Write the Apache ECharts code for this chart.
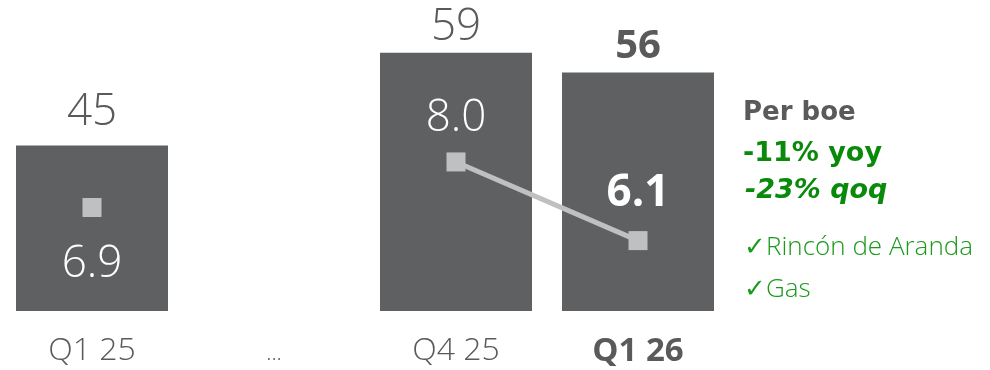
<!DOCTYPE html>
<html><head><meta charset="utf-8">
<script src="https://cdn.jsdelivr.net/npm/echarts@6/dist/echarts.min.js"></script>
<style>html,body{margin:0;padding:0;background:#fff}#c{width:990px;height:370px}</style>
</head><body><div id="c"></div>
<script>
var categories = ['Q1 25', '...', 'Q4 25', 'Q1 26'];
var costValues = [45, null, 59, 56];
var perBoeValues = [6.9, null, 8.0, 6.1];
var sideLines = ['Per boe', '-11% yoy', '-23% qoq', '\u2713Rinc\u00f3n de Aranda', '\u2713Gas'];

var chart = echarts.init(document.getElementById('c'));
var gray = '#5a5a5a';
var green = '#0a8a0a';
var lastIdx = categories.length - 1;

var barLabelCfg = [
  { distance: 11 },
  {},
  { distance: 3 },
  { fontWeight: 'bold', fontSize: 40, distance: 6 }
];
var barData = costValues.map(function (v, i) {
  return { value: v, label: barLabelCfg[i] };
});
var lineLabelCfg = [
  { position: 'bottom', distance: 25 },
  {},
  { position: 'top', distance: 12 },
  { position: 'top', distance: 16, fontWeight: 'bold' }
];
var lineData = perBoeValues.map(function (v, i) {
  return { value: v, label: lineLabelCfg[i] };
});

chart.setOption({
  animation: false,
  grid: { left: 1, right: 261, top: 46, bottom: 59 },
  xAxis: {
    type: 'category',
    data: categories,
    axisLine: { show: false },
    axisTick: { show: false },
    axisLabel: {
      interval: 0,
      margin: 24,
      fontFamily: 'Open Sans',
      fontSize: 32,
      fontWeight: 300,
      color: gray,
      formatter: function (v, i) {
        if (i === lastIdx) return '{b|' + v + '}';
        if (v === '...') return '{d|' + v + '}';
        return v;
      },
      rich: {
        b: { fontFamily: 'Open Sans', fontSize: 33, fontWeight: 'bold', color: gray },
        d: { fontFamily: 'Open Sans', fontSize: 22, fontWeight: 300, color: gray, padding: [8, 0, 0, 0] }
      }
    }
  },
  yAxis: [
    { type: 'value', min: 20, max: 60, show: false, splitLine: { show: false } },
    { type: 'value', min: 4.4, max: 10.8, show: false, splitLine: { show: false } }
  ],
  series: [
    {
      type: 'bar',
      data: barData,
      barWidth: 152,
      itemStyle: { color: '#5f6062' },
      label: {
        show: true,
        position: 'top',
        distance: 8,
        fontFamily: 'Open Sans',
        fontSize: 44,
        fontWeight: 300,
        color: gray
      }
    },
    {
      type: 'line',
      yAxisIndex: 1,
      data: lineData,
      connectNulls: false,
      symbol: 'rect',
      symbolSize: 19,
      lineStyle: { color: '#c0c0c0', width: 5 },
      itemStyle: { color: '#bfc0c2' },
      label: {
        show: true,
        fontFamily: 'Open Sans',
        fontSize: 44,
        fontWeight: 300,
        color: '#ffffff',
        formatter: function (p) { return Number(p.value).toFixed(1); }
      },
      z: 5
    }
  ],
  graphic: [
    { type: 'text', left: 743, top: 100, style: { text: sideLines[0], fontFamily: 'DejaVu Sans', fontWeight: 'bold', fontSize: 26, fill: gray } },
    { type: 'text', left: 743, top: 140, style: { text: sideLines[1], fontFamily: 'DejaVu Sans', fontWeight: 'bold', fontSize: 27, fill: green } },
    { type: 'text', left: 745, top: 177, style: { text: sideLines[2], fontFamily: 'DejaVu Sans', fontWeight: 'bold', fontStyle: 'italic', fontSize: 27, fill: green } },
    { type: 'text', left: 744, top: 235, style: { text: sideLines[3], fontFamily: 'Open Sans', fontWeight: 300, fontSize: 26, fill: '#1a9a1a' } },
    { type: 'text', left: 744, top: 277, style: { text: sideLines[4], fontFamily: 'Open Sans', fontWeight: 300, fontSize: 26, fill: '#1a9a1a' } }
  ]
});
</script></body></html>
